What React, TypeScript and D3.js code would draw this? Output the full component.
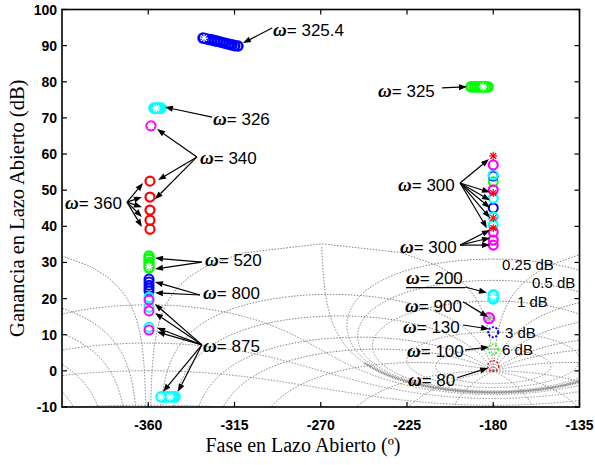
import React from "react";
import * as d3 from "d3";

const WIDTH = 595;
const HEIGHT = 465;
const PLOT = { left: 62, right: 579.5, top: 9.5, bottom: 407 };

const phaseTicks = [-360, -315, -270, -225, -180, -135];
const gainTicks = [-10, 0, 10, 20, 30, 40, 50, 60, 70, 80, 90, 100];

// Nichols grid (closed-loop gain in dB, closed-loop phase in deg)
const gridGainsDb = [6, 3, 1, 0.5, 0.25, 0, -1, -3, -6, -12, -20];
const gridPhasesDeg = [-1, -5, -10, -20, -30, -50, -90, -120, -150, -210, -240, -270, -310, -330, -340, -350, -355, -359];
const gridLabelText = ["0.25 dB", "0.5 dB", "1 dB", "3 dB", "6 dB"];
const gridLabelPhase = [-175.4, -159.8, -167.6, -173.9, -175.4];
const gridLabelGain = [27.9, 22.9, 17.7, 9.1, 4.4];

// w = 325.4 (blue)
const w3254Phase = [-331.4, -329.9, -328.4, -326.9, -325.4, -323.9, -322.4, -320.9, -319.4, -317.9, -316.4, -314.9, -313.2];
const w3254Gain = [92.1, 91.9, 91.7, 91.6, 91.4, 91.2, 91.0, 90.8, 90.6, 90.4, 90.2, 90.0, 89.9];
// w = 326 (cyan)
const w326Phase = [-357.0, -355.8, -354.6, -353.3];
const w326Gain = [72.7, 72.7, 72.7, 72.7];
// w = 340 (magenta)
const w340Phase = [-358.6];
const w340Gain = [67.8];
// w = 360 (red)
const w360Phase = [-359.1, -359.1, -359.1, -359.1, -359.1];
const w360Gain = [52.5, 48.1, 44.5, 41.7, 39.2];
// w = 520 (green)
const w520Phase = [-359.6, -359.6, -359.6, -359.6, -359.6];
const w520Gain = [31.8, 31.0, 30.1, 29.3, 28.5];
// w = 800 (blue)
const w800Phase = [-359.6, -359.6, -359.6, -359.6, -359.6];
const w800Gain = [25.4, 24.6, 23.7, 22.9, 22.1];
// w = 875
const w875Phase = [-359.6, -359.6, -359.6];
const w875CyanGain = [20.4, 17.6, 12.1];
const w875MagentaGain = [19.6, 16.6, 11.3];
const w875LowPhase = [-353.3, -351.8, -350.2, -348.7, -347.1, -346.0];
const w875LowGain = [-7.2, -7.2, -7.2, -7.2, -7.2, -7.2];
// w = 325 (green)
const w325Phase = [-191.6, -190.0, -188.5, -186.9, -185.3, -183.8, -182.7];
const w325Gain = [78.6, 78.6, 78.6, 78.6, 78.6, 78.6, 78.6];
// w = 300 column
const w300RedGain = [59.5, 49.2, 42.3, 39.5];
const w300MagentaGain = [57.0, 50.1, 38.4, 36.2, 34.8];
const w300CyanGain = [54.2, 47.8, 42.6, 40.4];
const w300BlueGain = [53.9, 45.1];
const w300GreenGain = [52.3];
// low frequencies near -180
const w200Gain = [21.0, 19.9];
const w900Phase = [-182.2];
const w900Gain = [14.6];
const w130Gain = [10.7];
const w100Gain = [6.0];
const w80Gain = [1.3];

const BLUE = "#0000ff";
const CYAN = "#00ffff";
const MAGENTA = "#ff00ff";
const RED = "#ff0000";
const GREEN = "#00ff00";

const col = (n: number) => Array(n).fill(-180);

type Kind = "o" | "*" | "od";
interface Series { phase: number[]; gain: number[]; color: string; kind: Kind; r?: number; sw?: number }

const series: Series[] = [
  { phase: w3254Phase, gain: w3254Gain, color: BLUE, kind: "o", sw: 2.6 },
  { phase: [w3254Phase[0] + 0.5], gain: [w3254Gain[0]], color: "#fff", kind: "*" },
  { phase: w326Phase, gain: w326Gain, color: CYAN, kind: "o", sw: 2.6 },
  { phase: [w326Phase[1]], gain: [w326Gain[1]], color: "#fff", kind: "*" },
  { phase: w340Phase, gain: w340Gain, color: MAGENTA, kind: "o", sw: 2.2 },
  { phase: w340Phase, gain: w340Gain, color: "#fff", kind: "*" },
  { phase: w360Phase, gain: w360Gain, color: RED, kind: "o", sw: 2.2 },
  { phase: w520Phase, gain: w520Gain, color: GREEN, kind: "o", sw: 2.4 },
  { phase: [w520Phase[0]], gain: [w520Gain[4] + 0.4], color: "#fff", kind: "*" },
  { phase: w800Phase, gain: w800Gain, color: BLUE, kind: "o", sw: 2 },
  { phase: w875Phase, gain: w875CyanGain, color: CYAN, kind: "o", sw: 2 },
  { phase: w875Phase, gain: w875MagentaGain, color: MAGENTA, kind: "o", sw: 2 },
  { phase: w875LowPhase, gain: w875LowGain, color: CYAN, kind: "o", sw: 2.6 },
  { phase: [w875LowPhase[0], w875LowPhase[3]], gain: [w875LowGain[0], w875LowGain[3]], color: "#fff", kind: "*" },
  { phase: w325Phase, gain: w325Gain, color: GREEN, kind: "o", sw: 2.6 },
  { phase: [w325Phase[4]], gain: [w325Gain[4]], color: "#fff", kind: "*" },
  { phase: col(w300GreenGain.length), gain: w300GreenGain, color: GREEN, kind: "o", sw: 2 },
  { phase: col(w300BlueGain.length), gain: w300BlueGain, color: BLUE, kind: "o", sw: 2 },
  { phase: col(w300CyanGain.length), gain: w300CyanGain, color: CYAN, kind: "o", sw: 2.2 },
  { phase: col(w300MagentaGain.length), gain: w300MagentaGain, color: MAGENTA, kind: "o", sw: 2.2 },
  { phase: col(w300RedGain.length), gain: w300RedGain, color: RED, kind: "*" },
  { phase: col(w200Gain.length), gain: w200Gain, color: CYAN, kind: "o", sw: 2.8 },
  { phase: col(1), gain: [w200Gain[0] - 0.5], color: "#fff", kind: "*" },
  { phase: w900Phase, gain: w900Gain, color: MAGENTA, kind: "o", sw: 2.2, r: 5 },
  { phase: w900Phase, gain: w900Gain, color: "#999", kind: "*" },
  { phase: col(1), gain: w130Gain, color: BLUE, kind: "od", sw: 2, r: 5 },
  { phase: col(1), gain: w100Gain, color: GREEN, kind: "od", sw: 1.3, r: 5 },
  { phase: col(1), gain: w80Gain, color: RED, kind: "od", sw: 1.3, r: 5.5 },
];

// annotations: label, text anchor, arrow origin, arrow targets (phase, gain)
interface Note { label: string; tp: number; tg: number; op: number; og: number; targets: [number, number][]; underline?: number }
const notes: Note[] = [
  { label: "325.4", tp: -294.9, tg: 92.7, op: -295.4, og: 94.9, targets: [[-310.6, 90.7]] },
  { label: "326", tp: -326.2, tg: 68.0, op: -326.7, og: 70.2, targets: [[-351.3, 73.0]] },
  { label: "340", tp: -333.0, tg: 57.2, op: -334.6, og: 59.2, targets: [[-355.4, 66.9], [-354.9, 52.8], [-356.5, 47.5]] },
  { label: "360", tp: -403.4, tg: 44.8, op: -371.1, og: 46.7, targets: [[-362.7, 52.0], [-363.3, 48.1], [-363.3, 45.3], [-363.3, 42.6], [-363.3, 39.8]] },
  { label: "520", tp: -330.4, tg: 29.0, op: -332.0, og: 30.1, targets: [[-356.5, 31.2], [-356.5, 28.2]] },
  { label: "800", tp: -331.4, tg: 19.9, op: -333.0, og: 21.0, targets: [[-356.5, 24.6], [-356.5, 21.6]] },
  { label: "875", tp: -331.4, tg: 5.3, op: -332.0, og: 7.2, targets: [[-356.5, 18.5], [-356.5, 16.0], [-355.4, 11.9], [-355.4, 10.8], [-352.3, -5.8], [-344.5, -5.8]] },
  { label: "325", tp: -240.1, tg: 75.8, op: -206.7, og: 78.3, targets: [[-193.7, 78.6]] },
  { label: "300", tp: -229.7, tg: 49.7, op: -197.3, og: 52.0, targets: [[-182.2, 58.6], [-181.7, 49.4], [-181.7, 47.2], [-181.7, 45.1], [-181.7, 42.3], [-183.3, 39.5]] },
  { label: "300", tp: -228.7, tg: 32.6, op: -197.3, og: 34.8, targets: [[-181.7, 39.0], [-181.7, 36.8], [-181.7, 34.8]] },
  { label: "200", tp: -225.5, tg: 24.0, op: -194.7, og: 23.2, targets: [[-183.3, 21.6]], underline: -194.7 },
  { label: "900", tp: -226.0, tg: 16.3, op: -195.8, og: 19.1, targets: [[-182.7, 14.9]] },
  { label: "130", tp: -227.1, tg: 10.6, op: -195.8, og: 12.7, targets: [[-182.2, 11.6]] },
  { label: "100", tp: -225.0, tg: 3.9, op: -194.7, og: 5.8, targets: [[-182.2, 6.6]] },
  { label: "80", tp: -224.5, tg: -4.1, op: -198.9, og: -1.9, targets: [[-182.7, 0.8]] },
];

type Pt = { p: number; g: number };

function toNichols(wx: number, wy: number): Pt {
  // W = 1/L  ->  phase(L) = -arg(W), gain(L) = -20 log10 |W|
  let p = (-Math.atan2(wy, wx) * 180) / Math.PI;
  if (p > 0) p -= 360;
  return { p, g: -20 * Math.log10(Math.hypot(wx, wy)) };
}

function splitWrap(pts: Pt[]): Pt[][] {
  const out: Pt[][] = [];
  let cur: Pt[] = [];
  pts.forEach((d, i) => {
    if (i > 0 && Math.abs(d.p - pts[i - 1].p) > 180) {
      out.push(cur);
      cur = [];
    }
    cur.push(d);
  });
  out.push(cur);
  return out;
}

function gainContour(db: number): Pt[] {
  const m = Math.pow(10, db / 20);
  const pts: Pt[] = [];
  for (let i = 0; i <= 2000; i++) {
    const a = (i / 2000) * 2 * Math.PI;
    pts.push(toNichols(-1 + Math.cos(a) / m, Math.sin(a) / m));
  }
  return pts;
}

function phaseContour(deg: number): Pt[] {
  const a = (-deg * Math.PI) / 180;
  const pts: Pt[] = [];
  for (let i = 0; i <= 1200; i++) {
    const t = Math.pow(10, -4 + (8 * i) / 1200);
    pts.push(toNichols(-1 + t * Math.cos(a), t * Math.sin(a)));
  }
  return pts;
}

function Marker({ cx, cy, kind, color, r = 4.5, sw = 1.5 }: { cx: number; cy: number; kind: Kind; color: string; r?: number; sw?: number }) {
  if (kind === "*") {
    const s = 4;
    const d = s * 0.72;
    return (
      <g stroke={color} strokeWidth={1.2}>
        <line x1={cx - s} y1={cy} x2={cx + s} y2={cy} />
        <line x1={cx} y1={cy - s} x2={cx} y2={cy + s} />
        <line x1={cx - d} y1={cy - d} x2={cx + d} y2={cy + d} />
        <line x1={cx - d} y1={cy + d} x2={cx + d} y2={cy - d} />
      </g>
    );
  }
  return (
    <circle cx={cx} cy={cy} r={r} fill="none" stroke={color} strokeWidth={sw}
      strokeDasharray={kind === "od" ? "2,1.6" : undefined} />
  );
}

function Arrow({ x1, y1, x2, y2 }: { x1: number; y1: number; x2: number; y2: number }) {
  const L = Math.hypot(x2 - x1, y2 - y1);
  const ux = (x2 - x1) / L;
  const uy = (y2 - y1) / L;
  const hl = 8;
  const hw = 3;
  const bx = x2 - ux * hl;
  const by = y2 - uy * hl;
  return (
    <g>
      <line x1={x1} y1={y1} x2={bx} y2={by} stroke="#000" strokeWidth={1.2} />
      <polygon points={`${x2},${y2} ${bx - uy * hw},${by + ux * hw} ${bx + uy * hw},${by - ux * hw}`} fill="#000" />
    </g>
  );
}

export default function App() {
  const x = d3.scaleLinear().domain([-405, -135]).range([PLOT.left, PLOT.right]);
  const y = d3.scaleLinear().domain([-10, 100]).range([PLOT.bottom, PLOT.top]);
  const GMAX = 35.5;
  const line = d3
    .line<Pt>()
    .defined((d) => isFinite(d.g) && d.g <= GMAX && d.g > -40)
    .x((d) => x(d.p))
    .y((d) => y(d.g));
  // the 0 dB contour is drawn heavier along its lower part
  const bandLine = d3
    .line<Pt>()
    .defined((d) => isFinite(d.g) && d.g <= 2.3)
    .x((d) => x(d.p))
    .y((d) => y(d.g));

  const offsets = [-360, 0];
  const gridPaths: string[] = [];
  const bandPaths: string[] = [];
  gridGainsDb.forEach((db) => {
    splitWrap(gainContour(db)).forEach((seg) => {
      offsets.forEach((o) => {
        const shifted = seg.map((q) => ({ p: q.p + o, g: q.g }));
        const d = line(shifted);
        if (d) gridPaths.push(d);
        if (db === 0) {
          const b = bandLine(shifted);
          if (b) bandPaths.push(b);
        }
      });
    });
  });
  gridPhasesDeg.forEach((ph) => {
    splitWrap(phaseContour(ph)).forEach((seg) => {
      offsets.forEach((o) => {
        const d = line(seg.map((q) => ({ p: q.p + o, g: q.g })));
        if (d) gridPaths.push(d);
      });
    });
  });

  const sans = "'Liberation Sans', Arial, sans-serif";
  const serif = "'Liberation Serif', 'Times New Roman', serif";

  return (
    <svg width={WIDTH} height={HEIGHT} style={{ position: "absolute", left: 0, top: 0, background: "#fff" }}>
      <defs>
        <clipPath id="plotArea">
          <rect x={PLOT.left} y={PLOT.top} width={PLOT.right - PLOT.left} height={PLOT.bottom - PLOT.top} />
        </clipPath>
      </defs>
      <rect width={WIDTH} height={HEIGHT} fill="#fff" />

      <g clipPath="url(#plotArea)" fill="none">
        {gridPaths.map((d, i) => (
          <path key={i} d={d} stroke="#808080" strokeWidth={1} strokeDasharray="1.5,1.5" />
        ))}
        {bandPaths.map((d, i) => (
          <path key={`b${i}`} d={d} stroke="#8a8a8a" strokeWidth={2.4} strokeDasharray="1,0.7" />
        ))}
      </g>

      {gridLabelText.map((t, i) => (
        <text key={t} x={x(gridLabelPhase[i])} y={y(gridLabelGain[i])} fontFamily={sans} fontSize={15}>{t}</text>
      ))}

      <g clipPath="url(#plotArea)">
        {series.map((s, si) =>
          s.phase.map((p, i) => (
            <Marker key={`${si}-${i}`} cx={x(p)} cy={y(s.gain[i])} kind={s.kind} color={s.color} r={s.r} sw={s.sw} />
          ))
        )}
      </g>

      {notes.map((n, i) => (
        <g key={i}>
          <text x={x(n.tp)} y={y(n.tg)} fontSize={17} fontFamily={sans}>
            <tspan fontFamily={serif} fontStyle="italic" fontWeight="bold" fontSize={19}>ω</tspan>
            <tspan>= {n.label}</tspan>
          </text>
          {n.underline !== undefined && (
            <line x1={x(n.tp)} x2={x(n.underline)} y1={y(n.tg) + 3.5} y2={y(n.tg) + 3.5} stroke="#000" strokeWidth={1.2} />
          )}
          {n.targets.map((t, j) => (
            <Arrow key={j} x1={x(n.op)} y1={y(n.og)} x2={x(t[0])} y2={y(t[1])} />
          ))}
        </g>
      ))}

      {/* axes box with inward ticks */}
      <rect x={PLOT.left} y={PLOT.top} width={PLOT.right - PLOT.left} height={PLOT.bottom - PLOT.top}
        fill="none" stroke="#000" strokeWidth={1.6} />
      {phaseTicks.map((t) => (
        <g key={t}>
          <line x1={x(t)} x2={x(t)} y1={PLOT.bottom} y2={PLOT.bottom - 5} stroke="#000" strokeWidth={1.2} />
          <line x1={x(t)} x2={x(t)} y1={PLOT.top} y2={PLOT.top + 5} stroke="#000" strokeWidth={1.2} />
          <text x={x(t)} y={430} textAnchor="middle" fontFamily={sans} fontWeight="bold" fontSize={14}>{t}</text>
        </g>
      ))}
      {gainTicks.map((t) => (
        <g key={t}>
          <line x1={PLOT.left} x2={PLOT.left + 5} y1={y(t)} y2={y(t)} stroke="#000" strokeWidth={1.2} />
          <line x1={PLOT.right} x2={PLOT.right - 5} y1={y(t)} y2={y(t)} stroke="#000" strokeWidth={1.2} />
          <text x={57} y={y(t) + 5} textAnchor="end" fontFamily={sans} fontWeight="bold" fontSize={14}>{t}</text>
        </g>
      ))}

      <text x={303} y={452} textAnchor="middle" fontFamily={serif} fontSize={20}>
        Fase en Lazo Abierto (º)
      </text>
      <text transform={`translate(24, ${(PLOT.top + PLOT.bottom) / 2}) rotate(-90)`} textAnchor="middle" fontFamily={serif} fontSize={20.5}>
        Ganancia en Lazo Abierto (dB)
      </text>
    </svg>
  );
}
